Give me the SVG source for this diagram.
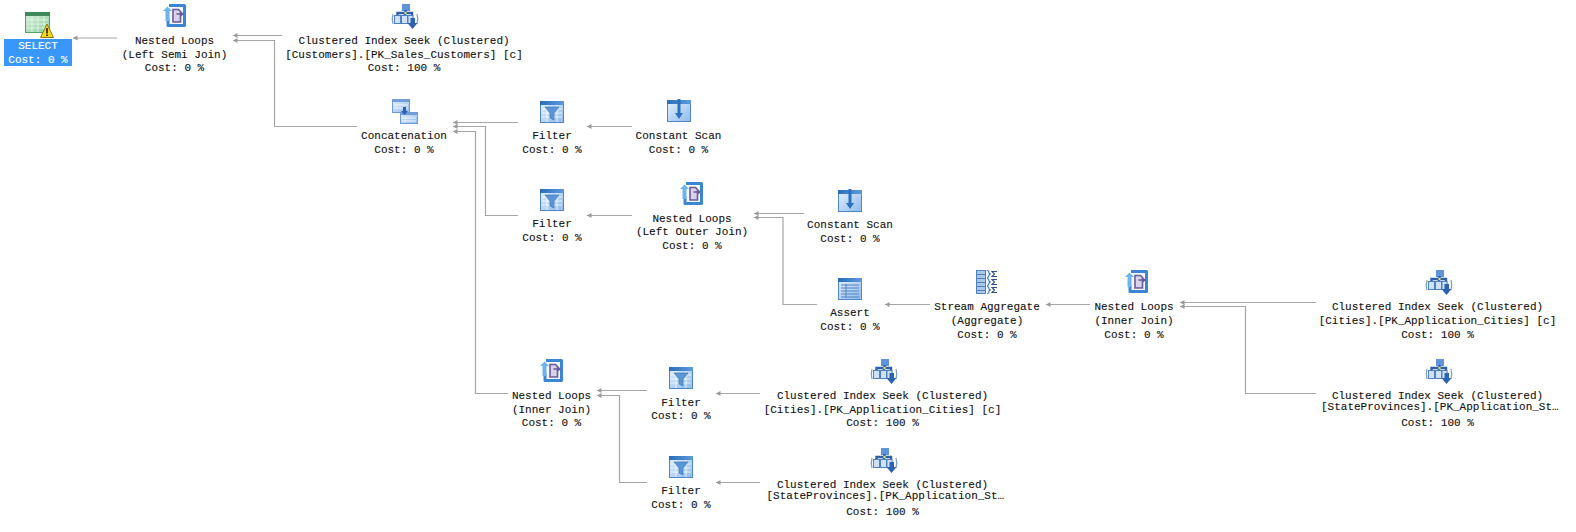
<svg xmlns="http://www.w3.org/2000/svg" width="1576" height="532" viewBox="0 0 1576 532">
<style>
text{font-family:"Liberation Mono","Courier New",monospace;font-size:11px;fill:#111;text-anchor:middle;stroke:#111;stroke-width:.12}
text.s{text-anchor:start}
text.w{fill:#fff;stroke:#fff}
.c path{fill:none;stroke:#a6a6a6;stroke-width:1.2;marker-start:url(#a)}
</style>
<defs>
<marker id="a" markerUnits="userSpaceOnUse" markerWidth="8" markerHeight="7" refX="0" refY="3.5" orient="auto" overflow="visible"><path d="M0 3.500 4.500 1V6Z" fill="#9a9a9a" stroke="none"/></marker>
<linearGradient id="win" x1="0" y1="0" x2="1" y2="1"><stop offset="0" stop-color="#e4f0fb"/><stop offset="1" stop-color="#8fbbec"/></linearGradient>
<linearGradient id="hd" x1="0" y1="0" x2="1" y2="0"><stop offset="0" stop-color="#2a6db8"/><stop offset="1" stop-color="#5d9bdc"/></linearGradient>
<linearGradient id="gr" x1="0" y1="0" x2="1" y2="1"><stop offset="0" stop-color="#d8efdc"/><stop offset="1" stop-color="#8ccf9e"/></linearGradient>
<symbol id="i-loop" width="24" height="24" viewBox="0 0 24 24" overflow="visible">
<path d="M6 1.500H21.500V21.500H5V15" fill="#f4f8fd" stroke="#3a86d2" stroke-width="3" stroke-linejoin="round"/>
<path d="M0 7 4.500 2.500 9 7H6.500V17H2.500V7Z" fill="#6db3ee"/>
<path d="M10 5.500H15.500L17.500 7.500V18H10Z" fill="#d9d2ea" stroke="#6a5a9a" stroke-width="1.600"/>
<path d="M13.500 10H19.500M17.500 8 20 10 17.500 12" fill="none" stroke="#6a5a9a" stroke-width="1.300"/>
</symbol>
<symbol id="i-seek" width="26" height="25" viewBox="0 0 26 25" overflow="visible">
<rect x="10" y="0" width="8" height="7" fill="#5f93dc"/>
<path d="M13.500 6V10M5.500 13V9H20V16M13 9V13" fill="none" stroke="#2c5fae" stroke-width="2.400"/>
<rect x="2.500" y="11.500" width="6" height="8" fill="#cfe2f7" stroke="#4f80c4"/><rect x="9.500" y="11.500" width="6" height="8" fill="#cfe2f7" stroke="#4f80c4"/><rect x="16" y="11.500" width="5" height="8" fill="#cfe2f7" stroke="#4f80c4"/>
<path d="M1 10Q-0.500 15 1 20M25 10Q26.500 15 25 20" fill="none" stroke="#7a9ad0" stroke-width="1.200"/>
<path d="M18.500 14H23V19H25.500L20.500 25 15.500 19H18.500Z" fill="#2c62b4"/>
<circle cx="13.500" cy="9" r="1.200" fill="#e8e860"/>
</symbol>
<symbol id="i-filter" width="24" height="22" viewBox="0 0 24 22" overflow="visible">
<rect x=".5" y=".5" width="23" height="21" fill="url(#win)" stroke="#4f87c6"/>
<rect x="0" y="0" width="24" height="4" fill="url(#hd)"/>
<path d="M2 8H22M2 12H22M2 16H22M7 4V21M17 4V21" stroke="#fff" stroke-width=".7" fill="none"/>
<path d="M5 6H19L14 12V19L10 17V12Z" fill="#5b97d6" stroke="#2f6eb4" stroke-width=".6"/>
</symbol>
<symbol id="i-const" width="24" height="22" viewBox="0 0 24 22" overflow="visible">
<rect x=".5" y=".5" width="23" height="21" fill="url(#win)" stroke="#4f87c6"/>
<rect x="0" y="0" width="24" height="4" fill="url(#hd)"/>
<path d="M10.500 -1H13.500V13H16L12 19 8 13H10.500Z" fill="#2a72bf"/>
</symbol>
<symbol id="i-assert" width="24" height="22" viewBox="0 0 24 22" overflow="visible">
<rect x=".5" y=".5" width="23" height="21" fill="url(#win)" stroke="#4f87c6"/>
<rect x="0" y="0" width="24" height="4" fill="url(#hd)"/>
<path d="M3 7H21M3 10H21M3 13H21M3 16H21M3 19H21M8 6V20" stroke="#4c82c2" stroke-width="1" fill="none"/>
</symbol>
<symbol id="i-agg" width="22" height="24" viewBox="0 0 22 24" overflow="visible">
<rect x=".5" y=".5" width="9" height="23" fill="#a9c8ec" stroke="#4f7fbd"/>
<path d="M0 4.500H10M0 8.500H10M0 12.500H10M0 16.500H10M0 20.500H10" stroke="#4f7fbd" fill="none"/>
<path d="M11 .5Q13 .5 13 3Q13 4 15 4Q13 4 13 5Q13 7.500 11 7.500M11 8.500Q13 8.500 13 11Q13 12 15 12Q13 12 13 13Q13 15.500 11 15.500M11 16.500Q13 16.500 13 19Q13 20 15 20Q13 20 13 21Q13 23.500 11 23.500" fill="none" stroke="#3c78c0" stroke-width="1.100"/>
<path d="M21 1.500H16L18.500 4 16 6.500H21M21 9.500H16L18.500 12 16 14.500H21M21 17.500H16L18.500 20 16 22.500H21" fill="none" stroke="#2f4f86" stroke-width="1.100"/>
</symbol>
<symbol id="i-concat" width="26" height="25" viewBox="0 0 26 25" overflow="visible">
<rect x=".5" y=".5" width="17" height="13" fill="url(#win)" stroke="#6f9cd2"/><rect x="0" y="0" width="18" height="3" fill="#6e9fd8"/>
<rect x="8.500" y="13.500" width="17" height="11" fill="url(#win)" stroke="#6f9cd2"/><rect x="8" y="13" width="18" height="3" fill="#6e9fd8"/>
<path d="M2 6H16M2 9H16M10 19H24M10 22H24" stroke="#fff" stroke-width=".8"/>
<path d="M11 8H14V12H16L12.500 16 9 12H11Z" fill="#2c62b4"/>
</symbol>
<symbol id="i-select" width="30" height="27" viewBox="0 0 30 27" overflow="visible">
<rect x=".5" y=".5" width="24" height="20" fill="url(#gr)" stroke="#5aa070"/>
<rect x="0" y="0" width="25" height="4" fill="#3f8a5c"/>
<path d="M2 8H23M2 12H23M2 16H23M7 4V20M13 4V20M19 4V20" stroke="#eaf7ec" stroke-width=".8"/>
<path d="M15.500 25.500 22 12 28.500 25.500Z" fill="#f7d720" stroke="#8a7a10"/>
<path d="M22 16V21.500M22 22.500V24" stroke="#111" stroke-width="1.500"/>
</symbol>
</defs>
<rect width="1576" height="532" fill="#fff"/>
<g id="connectors" class="c">
<path d="M73 38H117"/>
<path d="M233 35.500H282"/>
<path d="M233 40.500H274.500V126.500H357"/>
<path d="M453 122.500H518"/>
<path d="M453 126.500H485.500V215.500H518"/>
<path d="M453 131.500H475.500V393.500H508"/>
<path d="M587 126.500H632"/>
<path d="M587 215.500H632"/>
<path d="M754 213.500H804"/>
<path d="M754 217.500H783V304.500H817"/>
<path d="M885 304.500H930"/>
<path d="M1046 304.500H1090"/>
<path d="M1180 302.500H1316"/>
<path d="M1180 306.500H1245.500V393.500H1316"/>
<path d="M597 390.500H647"/>
<path d="M597 395.500H619.500V482.500H647"/>
<path d="M716 393.500H760"/>
<path d="M716 482.500H760"/>
</g>
<g id="select"><rect x="4" y="39" width="68" height="27" fill="#3a97fa"/><use href="#i-select" x="25" y="12"/><text class="w" x="38" y="49">SELECT</text><text class="w" x="38" y="63">Cost: 0 %</text></g>
<g id="nl-semi"><use href="#i-loop" x="163" y="4"/><text x="174.500" y="43.500">Nested Loops</text><text x="174.500" y="57.500">(Left Semi Join)</text><text x="174.500" y="70.500">Cost: 0 %</text></g>
<g id="seek-customers"><use href="#i-seek" x="392" y="4"/><text x="404" y="43.500">Clustered Index Seek (Clustered)</text><text x="404" y="57.500">[Customers].[PK_Sales_Customers] [c]</text><text x="404" y="70.500">Cost: 100 %</text></g>
<g id="concat"><use href="#i-concat" x="392" y="99"/><text x="404" y="138.500">Concatenation</text><text x="404" y="152.500">Cost: 0 %</text></g>
<g id="filter-1"><use href="#i-filter" x="540" y="101"/><text x="552" y="138.500">Filter</text><text x="552" y="152.500">Cost: 0 %</text></g>
<g id="const-1"><use href="#i-const" x="667" y="100"/><text x="678.500" y="138.500">Constant Scan</text><text x="678.500" y="152.500">Cost: 0 %</text></g>
<g id="filter-2"><use href="#i-filter" x="540" y="189"/><text x="552" y="227">Filter</text><text x="552" y="241">Cost: 0 %</text></g>
<g id="nl-outer"><use href="#i-loop" x="680" y="182"/><text x="692" y="221.500">Nested Loops</text><text x="692" y="234.500">(Left Outer Join)</text><text x="692" y="248.500">Cost: 0 %</text></g>
<g id="const-2"><use href="#i-const" x="838" y="190"/><text x="850" y="227.500">Constant Scan</text><text x="850" y="241.500">Cost: 0 %</text></g>
<g id="assert"><use href="#i-assert" x="838" y="278"/><text x="850" y="316">Assert</text><text x="850" y="329.500">Cost: 0 %</text></g>
<g id="stream"><use href="#i-agg" x="976" y="270"/><text x="987" y="309.500">Stream Aggregate</text><text x="987" y="323.500">(Aggregate)</text><text x="987" y="337.500">Cost: 0 %</text></g>
<g id="nl-inner-1"><use href="#i-loop" x="1125" y="270"/><text x="1134" y="309.500">Nested Loops</text><text x="1134" y="323.500">(Inner Join)</text><text x="1134" y="337.500">Cost: 0 %</text></g>
<g id="seek-cities-1"><use href="#i-seek" x="1426" y="270"/><text x="1437.500" y="309.500">Clustered Index Seek (Clustered)</text><text x="1437.500" y="323.500">[Cities].[PK_Application_Cities] [c]</text><text x="1437.500" y="337.500">Cost: 100 %</text></g>
<g id="seek-state-1"><use href="#i-seek" x="1426" y="359"/><text x="1437.500" y="398.500">Clustered Index Seek (Clustered)</text><text class="s" x="1321" y="409.500">[StateProvinces].[PK_Application_St…</text><text x="1437.500" y="425.500">Cost: 100 %</text></g>
<g id="nl-inner-2"><use href="#i-loop" x="540" y="359"/><text x="551.500" y="398.500">Nested Loops</text><text x="551.500" y="412.500">(Inner Join)</text><text x="551.500" y="425.500">Cost: 0 %</text></g>
<g id="filter-3"><use href="#i-filter" x="669" y="367"/><text x="681" y="405.500">Filter</text><text x="681" y="418.500">Cost: 0 %</text></g>
<g id="filter-4"><use href="#i-filter" x="669" y="456"/><text x="681" y="493.500">Filter</text><text x="681" y="507.500">Cost: 0 %</text></g>
<g id="seek-cities-2"><use href="#i-seek" x="871" y="359"/><text x="882.500" y="398.500">Clustered Index Seek (Clustered)</text><text x="882.500" y="412.500">[Cities].[PK_Application_Cities] [c]</text><text x="882.500" y="425.500">Cost: 100 %</text></g>
<g id="seek-state-2"><use href="#i-seek" x="871" y="448"/><text x="882.500" y="487.500">Clustered Index Seek (Clustered)</text><text class="s" x="766.500" y="498.500">[StateProvinces].[PK_Application_St…</text><text x="882.500" y="514.500">Cost: 100 %</text></g>
</svg>
